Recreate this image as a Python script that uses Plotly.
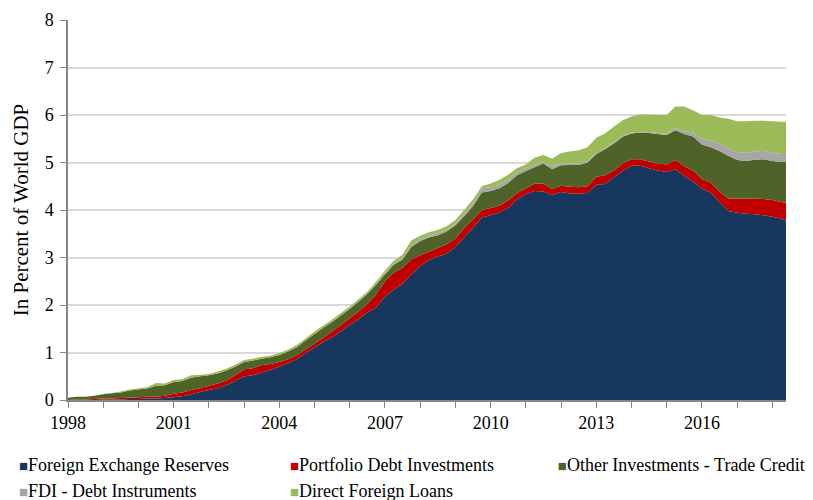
import pandas as pd
import plotly.graph_objects as go


# =====================================================
# DATA (quarterly, in percent of world GDP)
# =====================================================

quarters = pd.date_range("1998-01-01", periods=83, freq="QS")

fx_reserves = [
    0.00, 0.00, 0.00, 0.00, 0.01, 0.01, 0.01, 0.02, 0.02, 0.03,
    0.03, 0.04, 0.06, 0.08, 0.12, 0.17, 0.21, 0.25, 0.31, 0.40,
    0.50, 0.52, 0.58, 0.63, 0.70, 0.78, 0.86, 0.99, 1.11, 1.22,
    1.32, 1.45, 1.58, 1.70, 1.84, 1.95, 2.18, 2.32, 2.45, 2.65,
    2.82, 2.95, 3.02, 3.08, 3.22, 3.42, 3.62, 3.84, 3.89, 3.95,
    4.04, 4.22, 4.33, 4.40, 4.39, 4.31, 4.38, 4.35, 4.34, 4.36,
    4.53, 4.55, 4.69, 4.82, 4.93, 4.93, 4.88, 4.83, 4.80, 4.86,
    4.72, 4.60, 4.45, 4.37, 4.17, 3.98, 3.94, 3.92, 3.91, 3.89,
    3.86, 3.82, 3.74
]

portfolio_debt = [
    0.00, 0.01, 0.01, 0.02, 0.02, 0.02, 0.03, 0.03, 0.04, 0.04,
    0.04, 0.05, 0.07, 0.08, 0.09, 0.08, 0.09, 0.10, 0.10, 0.12,
    0.15, 0.15, 0.15, 0.13, 0.10, 0.08, 0.08, 0.08, 0.08, 0.09,
    0.12, 0.13, 0.14, 0.16, 0.18, 0.27, 0.32, 0.36, 0.33, 0.31,
    0.23, 0.17, 0.18, 0.20, 0.18, 0.20, 0.18, 0.16, 0.15, 0.14,
    0.16, 0.14, 0.13, 0.15, 0.17, 0.13, 0.13, 0.14, 0.14, 0.14,
    0.17, 0.18, 0.14, 0.16, 0.14, 0.14, 0.14, 0.15, 0.16, 0.19,
    0.20, 0.23, 0.20, 0.21, 0.22, 0.26, 0.30, 0.32, 0.33, 0.34,
    0.35, 0.35, 0.40
]

trade_credit = [
    0.05, 0.06, 0.06, 0.07, 0.09, 0.11, 0.12, 0.15, 0.16, 0.17,
    0.23, 0.22, 0.25, 0.24, 0.26, 0.25, 0.22, 0.21, 0.21, 0.18,
    0.15, 0.16, 0.14, 0.14, 0.15, 0.16, 0.17, 0.19, 0.20, 0.21,
    0.20, 0.20, 0.20, 0.21, 0.21, 0.21, 0.15, 0.17, 0.18, 0.26,
    0.30, 0.30, 0.27, 0.27, 0.28, 0.25, 0.28, 0.37, 0.36, 0.37,
    0.37, 0.37, 0.36, 0.35, 0.42, 0.42, 0.43, 0.46, 0.47, 0.50,
    0.48, 0.55, 0.57, 0.56, 0.54, 0.56, 0.60, 0.62, 0.62, 0.63,
    0.68, 0.72, 0.73, 0.74, 0.85, 0.90, 0.81, 0.79, 0.82, 0.84,
    0.82, 0.84, 0.87
]

fdi_debt = [
    0.00, 0.00, 0.00, 0.00, 0.00, 0.00, 0.00, 0.00, 0.00, 0.00,
    0.00, 0.00, 0.00, 0.00, 0.00, 0.00, 0.00, 0.00, 0.00, 0.00,
    0.00, 0.00, 0.00, 0.00, 0.00, 0.00, 0.00, 0.00, 0.00, 0.00,
    0.00, 0.00, 0.01, 0.01, 0.01, 0.02, 0.02, 0.03, 0.03, 0.04,
    0.04, 0.04, 0.04, 0.03, 0.04, 0.05, 0.06, 0.09, 0.08, 0.07,
    0.07, 0.07, 0.06, 0.06, 0.04, 0.06, 0.04, 0.03, 0.03, 0.03,
    0.03, 0.02, 0.03, 0.03, 0.02, 0.02, 0.02, 0.02, 0.03, 0.04,
    0.06, 0.08, 0.12, 0.14, 0.16, 0.15, 0.17, 0.17, 0.17, 0.18,
    0.17, 0.17, 0.17
]

direct_loans = [
    0.00, 0.00, 0.00, 0.00, 0.01, 0.01, 0.02, 0.02, 0.03, 0.03,
    0.06, 0.04, 0.04, 0.04, 0.05, 0.03, 0.03, 0.04, 0.04, 0.04,
    0.04, 0.04, 0.04, 0.03, 0.04, 0.04, 0.05, 0.04, 0.05, 0.05,
    0.05, 0.05, 0.04, 0.04, 0.04, 0.04, 0.05, 0.05, 0.07, 0.10,
    0.07, 0.07, 0.07, 0.08, 0.07, 0.08, 0.08, 0.04, 0.08, 0.10,
    0.10, 0.08, 0.08, 0.14, 0.14, 0.16, 0.22, 0.25, 0.28, 0.29,
    0.31, 0.31, 0.32, 0.32, 0.34, 0.36, 0.37, 0.38, 0.39, 0.46,
    0.52, 0.47, 0.50, 0.54, 0.55, 0.63, 0.65, 0.67, 0.65, 0.63,
    0.67, 0.68, 0.68
]

series = [
    ("Foreign Exchange Reserves", fx_reserves, "#17375E", "legend"),
    ("Portfolio Debt Investments", portfolio_debt, "#C00000", "legend2"),
    ("Other Investments - Trade Credit", trade_credit, "#4F6228", "legend3"),
    ("FDI - Debt Instruments", fdi_debt, "#A6A6A6", "legend"),
    ("Direct Foreign Loans", direct_loans, "#9BBB59", "legend2"),
]

FONT = "Liberation Serif, Times New Roman, serif"


# =====================================================
# STACKED AREA
# =====================================================

fig = go.Figure()

for name, values, color, _ in series:
    fig.add_trace(
        go.Scatter(
            x=quarters,
            y=values,
            name=name,
            stackgroup="one",
            mode="none",
            fillcolor=color,
            showlegend=False
        )
    )

# legend entries (square marker drawn as part of the label)
for name, _, color, legend in series:
    fig.add_trace(
        go.Scatter(
            x=[None],
            y=[None],
            mode="markers",
            marker={"size": 0, "color": "rgba(0,0,0,0)", "opacity": 0},
            name=f"<span style='color:{color};font-size:15px'>■</span>{name}",
            legend=legend
        )
    )

legend_style = dict(
    orientation="v",
    traceorder="normal",
    xanchor="left",
    yanchor="top",
    y=-0.12,
    itemwidth=30,
    bgcolor="rgba(0,0,0,0)",
    font={"family": FONT, "size": 18, "color": "#000000"}
)

fig.update_layout(
    width=813,
    height=500,
    margin={"l": 68, "r": 27, "t": 20, "b": 100, "autoexpand": False},
    paper_bgcolor="white",
    plot_bgcolor="white",
    font={"family": FONT, "size": 18, "color": "#000000"},
    legend={**legend_style, "x": -0.124},
    legend2={**legend_style, "x": 0.2535},
    legend3={**legend_style, "x": 0.6265},
    xaxis={
        "type": "date",
        "range": ["1998-01-01", "2018-05-22"],
        "tick0": "1998-01-01",
        "dtick": "M36",
        "tickformat": "%Y",
        "ticks": "outside",
        "ticklen": 6,
        "tickcolor": "#868686",
        "showline": True,
        "linecolor": "#868686",
        "linewidth": 1.5,
        "showgrid": False,
        "zeroline": False,
        "minor": {
            "dtick": "M12",
            "ticks": "outside",
            "ticklen": 6,
            "tickcolor": "#868686",
            "showgrid": False
        },
        "tickfont": {"size": 18}
    },
    yaxis={
        "range": [0, 8],
        "dtick": 1,
        "ticks": "outside",
        "ticklen": 6,
        "tickcolor": "#868686",
        "ticklabelstandoff": 3,
        "showline": True,
        "linecolor": "#868686",
        "linewidth": 1.5,
        "gridcolor": "#D9D9D9",
        "gridwidth": 1.5,
        "zeroline": False,
        "tickfont": {"size": 18},
        "title": {
            "text": "In Percent of World GDP",
            "font": {"size": 21},
            "standoff": 10
        }
    }
)

fig.write_html(
    "out.html",
    config={"displayModeBar": False},
    post_script="document.body.style.margin = '0px';"
)
